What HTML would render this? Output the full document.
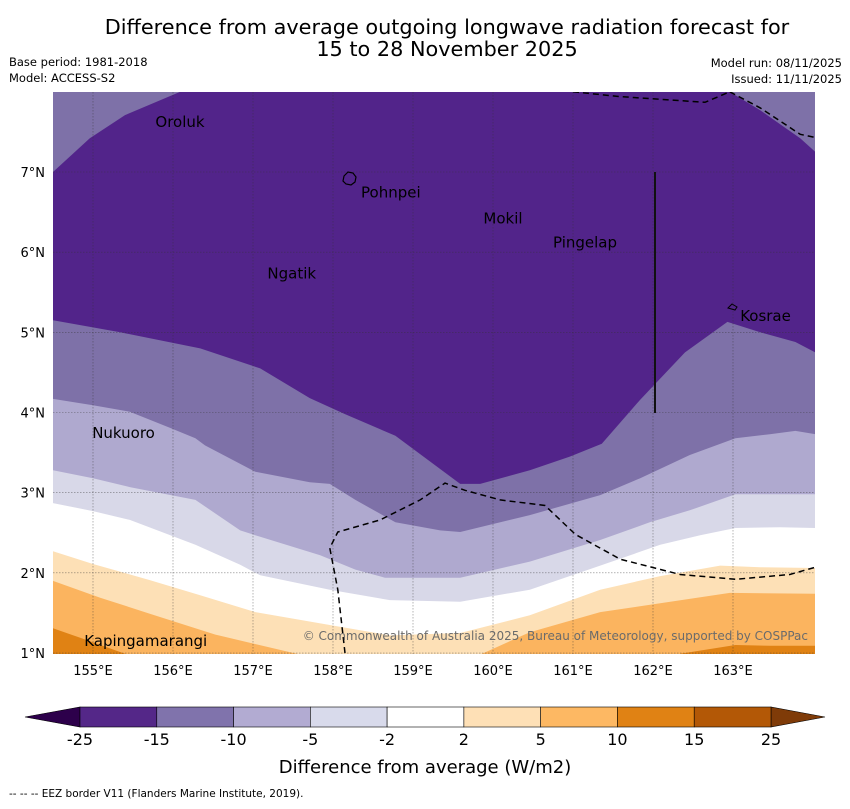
<!DOCTYPE html>
<html><head><meta charset="utf-8"><style>
body{margin:0;background:#fff;width:850px;height:804px;overflow:hidden;font-family:"Liberation Sans","DejaVu Sans",sans-serif}
svg text{font-family:"DejaVu Sans","Liberation Sans",sans-serif}
</style></head><body>
<svg id="chart" width="850" height="804" viewBox="0 0 850 804" xmlns="http://www.w3.org/2000/svg">
<text x="447" y="34" font-size="20.8" text-anchor="middle">Difference from average outgoing longwave radiation forecast for</text>
<text x="447" y="56" font-size="20.8" text-anchor="middle">15 to 28 November 2025</text>
<text x="9" y="66" font-size="11.5">Base period: 1981-2018</text>
<text x="9" y="82" font-size="11.5">Model: ACCESS-S2</text>
<text x="842" y="67" font-size="11.5" text-anchor="end">Model run: 08/11/2025</text>
<text x="842" y="83" font-size="11.5" text-anchor="end">Issued: 11/11/2025</text>
<defs><clipPath id="mapclip"><rect x="53" y="92" width="762" height="562"/></clipPath></defs>
<g id="map" clip-path="url(#mapclip)"></g>
<g id="overlay"></g>
<g id="cbar"></g>
<text x="425" y="773" font-size="18" text-anchor="middle">Difference from average (W/m2)</text>
<text x="9" y="797" font-size="10.5">--  --  -- EEZ border V11 (Flanders Marine Institute, 2019).</text>
</svg>
<script>
// ---- data ----
const lonTicks = [155,156,157,158,159,160,161,162,163];
const latTicks = [1,2,3,4,5,6,7];
const levelColors = ["#52248a","#7e71a8","#afa9cf","#d8d8e8","#ffffff","#fde0b6","#fbb45f","#e08214"];
// boundaries: [lon, lat] pairs; region below boundary k gets levelColors[k+1]
const boundary1 = [[154.5,5.15],[155.34,5.0],[156.34,4.8],[157.09,4.55],[157.71,4.18],[158.15,3.98],[158.78,3.71],[159.59,3.11],[159.84,3.11],[160.46,3.28],[160.96,3.45],[161.36,3.61],[161.84,4.16],[162.4,4.75],[162.93,5.13],[163.34,5.0],[163.78,4.88],[164.03,4.75]];
const boundary2 = [[154.5,4.17],[155,4.09],[155.46,4.01],[155.96,3.81],[156.28,3.68],[156.4,3.59],[157.03,3.26],[157.71,3.13],[157.96,3.11],[158.28,2.91],[158.78,2.63],[159.34,2.53],[159.59,2.51],[160.46,2.72],[161.34,2.97],[161.84,3.18],[162.46,3.47],[163.03,3.68],[163.46,3.73],[163.78,3.77],[164.03,3.73]];
const boundary3 = [[154.5,3.28],[155,3.18],[155.46,3.07],[156.28,2.91],[156.84,2.53],[157.09,2.45],[157.84,2.22],[158.28,2.04],[158.65,1.94],[159.59,1.94],[160.46,2.14],[161.34,2.41],[161.96,2.63],[162.46,2.78],[163.03,2.98],[164.03,2.98]];
const boundary4 = [[154.5,2.87],[155,2.77],[155.46,2.66],[156.28,2.35],[156.84,2.10],[157.09,1.97],[157.96,1.79],[158.71,1.66],[159.59,1.64],[160.46,1.79],[161.34,2.09],[162.09,2.35],[162.59,2.47],[163.03,2.56],[163.59,2.57],[164.03,2.56]];
const boundary5 = [[154.5,2.27],[155,2.11],[155.71,1.91],[156.34,1.72],[157.03,1.51],[157.96,1.35],[158.71,1.22],[159.59,1.25],[160.46,1.47],[161.34,1.79],[162.09,1.96],[162.84,2.09],[163.34,2.07],[164.03,2.06]];
const boundary6 = [[154.5,1.9],[155.09,1.69],[155.71,1.49],[156.53,1.23],[157.59,0.98],[158.84,0.8],[159.84,0.98],[160.46,1.26],[161.34,1.51],[162.09,1.62],[162.96,1.75],[164.03,1.74]];
const boundary7 = [[154.5,1.31],[154.84,1.19],[155.4,0.99],[157.6,0.5],[161.3,0.5],[162.34,0.99],[163.03,1.1],[163.46,1.09],[164.03,1.09]];
const topLeftPatch = [[154.5,7.0],[154.96,7.42],[155.4,7.71],[156.09,8.0],[154.5,8.0]];
const topRightPatch = [[162.96,8.0],[163.34,7.77],[163.84,7.42],[164.03,7.25],[164.03,8.0]];
const eezSouth = [[158.15,1.0],[158.06,1.79],[157.96,2.31],[158.06,2.51],[158.59,2.66],[159.09,2.91],[159.4,3.12],[159.65,3.03],[160.09,2.91],[160.65,2.84],[161.03,2.48],[161.59,2.17],[162.34,1.98],[163.03,1.92],[163.71,1.98],[164.03,2.07]];
const eezNorthA = [[161.0,8.0],[161.59,7.94],[162.65,7.87],[162.96,8.0]];
const eezNorthB = [[162.96,8.0],[163.34,7.8],[163.84,7.47],[164.03,7.43]];
const places = ["Oroluk","Pohnpei","Mokil","Pingelap","Ngatik","Kosrae","Nukuoro","Kapingamarangi"];
const placeLon = [155.78,158.35,159.88,160.75,157.18,163.09,154.99,154.89];
const placeLat = [7.56,6.68,6.36,6.06,5.67,5.14,3.68,1.09];
const cbarBounds = ["-25","-15","-10","-5","-2","2","5","10","15","25"];
const cbarColors = ["#542788","#8073ac","#b2abd2","#d8daeb","#ffffff","#fee0b6","#fdb863","#e08214","#b35806"];

// ---- axes ----
const x = lon => 93 + (lon-155)*80;
const y = lat => 172 + (7-lat)*80.17;
const NS="http://www.w3.org/2000/svg";
function mk(tag, attrs, parent){const e=document.createElementNS(NS,tag);for(const k in attrs)e.setAttribute(k,attrs[k]);parent.appendChild(e);return e;}
const map=document.getElementById('map'), ov=document.getElementById('overlay'), cb=document.getElementById('cbar');
const pts = arr => arr.map(p=>x(p[0]).toFixed(1)+","+y(p[1]).toFixed(1)).join(" ");

let bg=mk('rect',{x:53,y:92,width:762,height:562,fill:levelColors[0]},map);


const bounds=[boundary1,boundary2,boundary3,boundary4,boundary5,boundary6,boundary7];
bounds.forEach((b,i)=>{
  const poly = pts(b)+" "+x(164.2)+","+y(0)+" "+x(154.3)+","+y(0);
  const p=mk('polygon',{points:poly,fill:levelColors[i+1]},map);
  
  
});
[topLeftPatch,topRightPatch].forEach((b,i)=>{
  const p=mk('polygon',{points:pts(b),fill:levelColors[1]},map);
  
  
});
// grid
lonTicks.forEach(l=>{
  const g=mk('line',{x1:x(l),x2:x(l),y1:92,y2:654,stroke:"#333",'stroke-width':0.6,'stroke-dasharray':'1.5,1.5',opacity:0.6},map);
  
  
  const t=mk('text',{x:x(l),y:675,'font-size':13,'text-anchor':'middle'},ov);t.textContent=l+"°E";
  
  
});
latTicks.forEach(l=>{
  const g=mk('line',{x1:53,x2:815,y1:y(l),y2:y(l),stroke:"#333",'stroke-width':0.6,'stroke-dasharray':'1.5,1.5',opacity:0.6},map);
  
  
  const t=mk('text',{x:45,y:y(l)+5,'font-size':13,'text-anchor':'end'},ov);t.textContent=l+"°N";
  
  
});
// EEZ lines
[eezSouth,eezNorthA,eezNorthB].forEach((b,i)=>{
  const p=mk('polyline',{points:pts(b),fill:'none',stroke:'#000','stroke-width':1.5,'stroke-dasharray':'6,4'},map);
  
  
});
let vl=mk('line',{x1:655,x2:655,y1:172,y2:413,stroke:'#111','stroke-width':2},map);


let isl=mk('path',{d:'M344,176 l4,-4 l5,1 l3,4 l-1,5 l-4,3 l-5,-1 l-3,-3 z',fill:'none',stroke:'#000','stroke-width':1.2},map);


let kos=mk('path',{d:'M728,308 l4,-4 l5,3 l-2,3 z',fill:'none',stroke:'#000','stroke-width':1},map);


places.forEach((n,i)=>{
  const t=mk('text',{x:x(placeLon[i]),y:y(placeLat[i]),'font-size':15},map);t.textContent=n;
  
  
});
let cr=mk('text',{x:808,y:640,'font-size':12,'text-anchor':'end',fill:'#6b6b6b'},map);
cr.textContent="© Commonwealth of Australia 2025, Bureau of Meteorology, supported by COSPPac";


// colorbar
const cx0=80, cw=(771-80)/cbarColors.length, cy=707, ch=20;
let lt=mk('polygon',{points:`${cx0},${cy} ${cx0},${cy+ch} 25,${cy+ch/2}`,fill:'#2d004b',stroke:'#000','stroke-width':0.6},cb);


let rt=mk('polygon',{points:`771,${cy} 771,${cy+ch} 825,${cy+ch/2}`,fill:'#7f3b08',stroke:'#000','stroke-width':0.6},cb);


cbarColors.forEach((c,i)=>{
  const r=mk('rect',{x:cx0+i*cw,y:cy,width:cw,height:ch,fill:c,stroke:'#000','stroke-width':0.6},cb);
  
  
});
cbarBounds.forEach((v,i)=>{
  const t=mk('text',{x:cx0+i*cw,y:745,'font-size':16,'text-anchor':'middle'},cb);t.textContent=v;
  
  
});
</script>
</body></html>
